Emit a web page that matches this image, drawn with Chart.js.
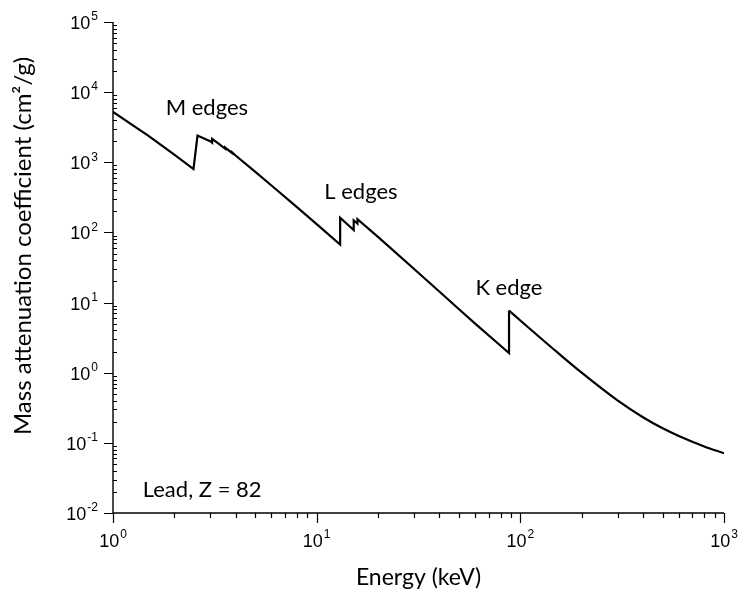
<!DOCTYPE html>
<html>
<head>
<meta charset="utf-8">
<script src="https://cdn.jsdelivr.net/npm/chart.js@4/dist/chart.umd.min.js"></script>
<style>
  html, body { margin: 0; padding: 0; background: #fff; }
  #wrap { width: 740px; height: 596px; }
</style>
</head>
<body>
<div id="wrap"><canvas id="mu-chart"></canvas></div>
<script>
// Lead, photon energy (keV) vs mass attenuation coefficient (cm2/g).
// Edges are listed twice: just below, then just above (M5/M4 merge into one rise).
const energyKeV = [
  1, 1.5, 2, 2.484, 2.6, 3.0, 3.066, 3.066, 3.3,
  3.554, 3.554, 3.851, 3.851, 4, 5, 6, 8, 10,
  13.04, 13.04, 15.2, 15.2, 15.86, 15.86, 20, 30, 40, 50, 60, 80,
  88.0, 88.0, 100, 150, 200, 300, 400, 500, 600, 800, 1000
];
const massAtten = [
  5210, 2356, 1285, 800, 2400, 2000, 1900, 2150, 1850,
  1560, 1620, 1350, 1380, 1250, 730, 467, 229, 131,
  67, 162, 108, 149, 134, 155, 86.4, 30.3, 14.4, 8.04, 5.02, 2.42,
  1.91, 7.68, 5.55, 2.01, 1.0, 0.403, 0.232, 0.161, 0.125, 0.0887, 0.071
];

// decades shown on each axis (powers of ten)
const xDecades = [0, 1, 2, 3];
const yDecades = [-2, -1, 0, 1, 2, 3, 4, 5];

// text placed on the plot, anchored in data coordinates
const notes = [
  { text: 'M edges', x: 2.89, y: 5990, align: 'center' },
  { text: 'L edges', x: 16.5, y: 379, align: 'center' },
  { text: 'K edge', x: 87.9, y: 16.2, align: 'center' },
  { text: 'Lead, Z = 82', x: 1.40, y: 0.0213, align: 'left' }
];

const labelFont = 'Lato, "Open Sans", sans-serif';
const tickFont = '"Liberation Sans", Arial, sans-serif';

// "10" with a raised exponent
function drawPower(ctx, exp, px, py, align) {
  ctx.font = '18px ' + tickFont;
  const baseW = ctx.measureText('10').width;
  ctx.font = '12px ' + tickFont;
  const expText = String(exp);
  const expW = ctx.measureText(expText).width;
  const total = baseW + expW + 1;
  let x0 = px - total / 2;
  if (align === 'right') x0 = px - total;
  ctx.textAlign = 'left';
  ctx.textBaseline = 'middle';
  ctx.font = '18px ' + tickFont;
  ctx.fillText('10', x0, py);
  ctx.font = '12px ' + tickFont;
  ctx.fillText(expText, x0 + baseW + 1, py - 7);
}

const logAxes = {
  id: 'logAxes',
  afterDraw(chart) {
    const { ctx, chartArea: a, scales: { x, y } } = chart;
    ctx.save();
    ctx.strokeStyle = '#000';
    ctx.fillStyle = '#000';
    ctx.lineWidth = 1.4;

    ctx.beginPath();
    ctx.moveTo(a.left, a.top);
    ctx.lineTo(a.left, a.bottom);
    ctx.lineTo(a.right, a.bottom);
    ctx.stroke();

    // x ticks point down, minor ones shorter
    ctx.lineWidth = 1.2;
    ctx.beginPath();
    xDecades.forEach((e, i) => {
      for (let m = 1; m <= 9; m++) {
        if (i === xDecades.length - 1 && m > 1) break;
        const px = Math.round(x.getPixelForValue(m * Math.pow(10, e))) + 0.5;
        ctx.moveTo(px, a.bottom);
        ctx.lineTo(px, a.bottom + (m === 1 ? 10 : 5));
      }
    });
    // y ticks: majors out to the left, minors inside
    yDecades.forEach((e, i) => {
      for (let m = 1; m <= 9; m++) {
        if (i === yDecades.length - 1 && m > 1) break;
        const py = Math.round(y.getPixelForValue(m * Math.pow(10, e))) + 0.5;
        if (m === 1) {
          ctx.moveTo(a.left - 9, py);
          ctx.lineTo(a.left, py);
        } else {
          ctx.moveTo(a.left, py);
          ctx.lineTo(a.left + 4, py);
        }
      }
    });
    ctx.stroke();

    xDecades.forEach(e => {
      drawPower(ctx, e, x.getPixelForValue(Math.pow(10, e)), a.bottom + 29, 'center');
    });
    yDecades.forEach(e => {
      drawPower(ctx, e, a.left - 15, y.getPixelForValue(Math.pow(10, e)) + 2, 'right');
    });

    // axis titles
    ctx.font = '23px ' + labelFont;
    ctx.textAlign = 'center';
    ctx.textBaseline = 'middle';
    ctx.fillText('Energy (keV)', (a.left + a.right) / 2, a.bottom + 65);
    ctx.save();
    ctx.translate(23, 246);
    ctx.rotate(-Math.PI / 2);
    ctx.font = '24px ' + labelFont;
    ctx.fillText('Mass attenuation coefficient (cm\u00B2/g)', 0, 0);
    ctx.restore();

    ctx.font = '22px ' + labelFont;
    notes.forEach(n => {
      ctx.textAlign = n.align;
      ctx.fillText(n.text, x.getPixelForValue(n.x), y.getPixelForValue(n.y));
    });
    ctx.restore();
  }
};

const points = energyKeV.map((e, i) => ({ x: e, y: massAtten[i] }));
// above the K edge the curve bends smoothly, so that part is drawn as a spline
const kAbove = energyKeV.lastIndexOf(88.0);

const lineStyle = {
  borderColor: '#000',
  borderWidth: 2.2,
  pointRadius: 0,
  fill: false
};

new Chart(document.getElementById('mu-chart'), {
  type: 'line',
  data: {
    datasets: [
      { ...lineStyle, label: 'below K edge', data: points.slice(0, kAbove + 1), tension: 0 },
      { ...lineStyle, label: 'above K edge', data: points.slice(kAbove), cubicInterpolationMode: 'monotone' }
    ]
  },
  options: {
    responsive: true,
    maintainAspectRatio: false,
    animation: false,
    layout: { padding: { left: 0, right: 16, top: 22, bottom: 0 } },
    plugins: {
      legend: { display: false },
      tooltip: { enabled: false }
    },
    scales: {
      x: {
        type: 'logarithmic',
        min: 1,
        max: 1000,
        grid: { display: false },
        border: { display: false },
        ticks: { display: false },
        afterFit: s => { s.height = 83; }
      },
      y: {
        type: 'logarithmic',
        min: 0.01,
        max: 100000,
        grid: { display: false },
        border: { display: false },
        ticks: { display: false },
        afterFit: s => { s.width = 113; }
      }
    }
  },
  plugins: [logAxes]
});
</script>
</body>
</html>
